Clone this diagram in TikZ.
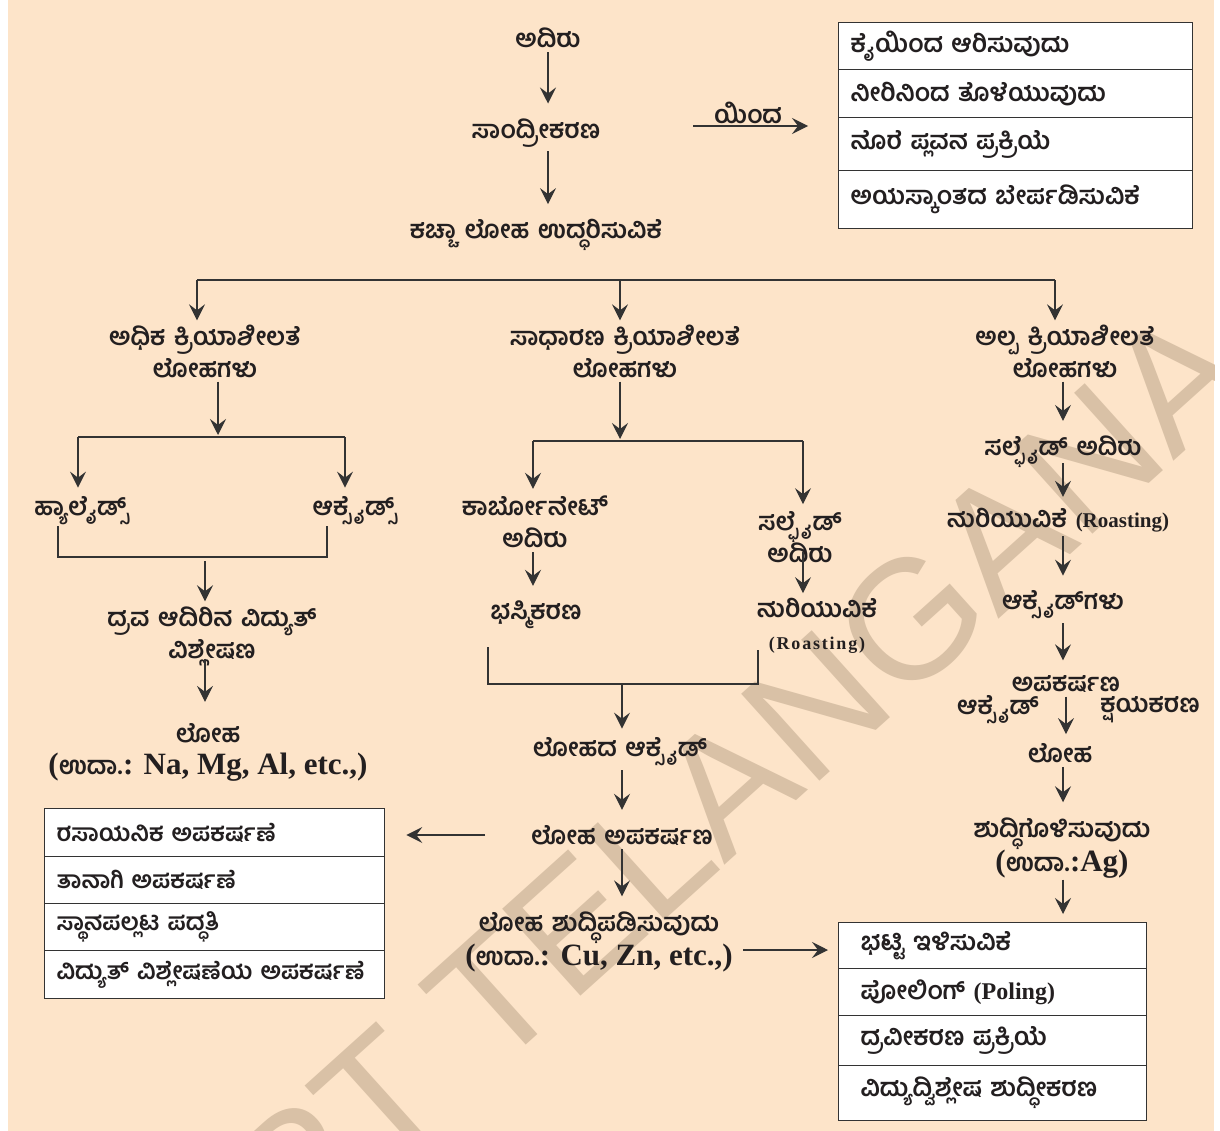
\documentclass[tikz,border=0pt]{standalone}
\usepackage{fontspec}
\newfontfamily\knfont[Script=Kannada, WordSpace=1.4]{Hind Mysuru}
\newfontfamily\latfont{Liberation Serif}
\newfontfamily\roastfont[LetterSpace=10]{Liberation Serif}
\newfontfamily\wmfont{Liberation Sans}
\usetikzlibrary{arrows.meta,positioning}

\definecolor{bgpeach}{RGB}{253,228,201}
\definecolor{wmtan}{RGB}{217,193,166}
\definecolor{inkc}{RGB}{35,31,32}
\definecolor{linec}{RGB}{51,51,51}

\newcommand{\latbig}[1]{{\latfont\bfseries\fontsize{31}{32}\selectfont #1}}
\newcommand{\latmid}[1]{{\latfont\bfseries\fontsize{24}{26}\selectfont #1}}
\newcommand{\roastsp}[1]{{\roastfont\bfseries\fontsize{18}{20}\selectfont #1}}
\newcommand{\roastb}[1]{{\latfont\bfseries\fontsize{21}{22}\selectfont #1}}

\tikzset{
  kn/.style={font=\knfont\bfseries\fontsize{25}{32}\selectfont, text=inkc, inner sep=1pt, align=center},
  arw/.style={-{Stealth[length=16pt,width=16pt,inset=6pt]}, line width=1.2pt, draw=linec, shorten >=14pt, shorten <=3pt},
  ln/.style={line width=1.2pt, draw=linec},
  tabrow/.style={draw=linec, fill=white, line width=1.3pt, anchor=north west, inner ysep=0pt, align=left,
    font=\knfont\bfseries\fontsize{25}{28}\selectfont, text=inkc},
  tabsmall/.style={tabrow, font=\knfont\bfseries\fontsize{24}{28}\selectfont}
}

\begin{document}
\begin{tikzpicture}[x=1pt, y=-1pt]

  \fill[white] (0,0) rectangle (1220,1131);
  \useasboundingbox (0,0) rectangle (1220,1131);
  \fill[bgpeach] (8,0) rectangle (1214,1131);

  \begin{scope}
    \clip (8,0) rectangle (1214,1131);
    \node[rotate=42, text=wmtan, font=\wmfont\fontsize{170}{170}\selectfont] (wm) at (736,777) {RT TELANGANA};
  \end{scope}

  % top
  \node[kn] (adiru) at (548,38) {ಅದಿರು};
  \node[kn] (sandri) at (536,133) {ಸಾಂದ್ರೀಕರಣ};
  \node[kn] (kachcha) at (536,235) {ಕಚ್ಚಾ ಲೋಹ ಉದ್ಧರಿಸುವಿಕೆ};
  \draw[arw] (adiru.south) -- (adiru.south |- sandri.north);
  \draw[arw] (sandri.south -| adiru) -- (adiru |- kachcha.north);

  \foreach \txt/\y/\h [count=\i] in {ಕೈಯಿಂದ ಆರಿಸುವುದು/22/47, ನೀರಿನಿಂದ ತೊಳೆಯುವುದು/69/48,
      ನೊರೆ ಪ್ಲವನ ಪ್ರಕ್ರಿಯೆ/117/53, ಅಯಸ್ಕಾಂತದ ಬೇರ್ಪಡಿಸುವಿಕೆ/170/58}
    \node[tabrow, text width=330pt, inner xsep=12pt, minimum height=\h pt] (tr\i) at (838,\y) {\mbox{\txt}};

  \node[kn] (yinda) at (748,113) {ಯಿಂದ};
  \coordinate (ys) at (693,126);
  \draw[arw, shorten <=0pt, shorten >=30pt] (ys) -- (ys -| tr1.west);

  % three groups
  \coordinate (brL) at (197,280);
  \coordinate (brM) at (620,280);
  \coordinate (brR) at (1055,280);
  \draw[ln] (brL) -- (brR);

  \node[kn] (adhika) at (205,351) {ಅಧಿಕ ಕ್ರಿಯಾಶೀಲತೆ\\ಲೋಹಗಳು};
  \node[kn] (sadha) at (625,351) {ಸಾಧಾರಣ ಕ್ರಿಯಾಶೀಲತೆ\\ಲೋಹಗಳು};
  \node[kn] (alpa) at (1065,351) {ಅಲ್ಪ ಕ್ರಿಯಾಶೀಲತೆ\\ಲೋಹಗಳು};
  \foreach \c/\n in {brL/adhika, brM/sadha, brR/alpa}
    \draw[arw, shorten <=0pt, shorten >=3pt] (\c) -- (\c |- \n.north);

  % left
  \coordinate (jL) at (218,437);
  \coordinate (jL1) at (78,437);
  \coordinate (jL2) at (345,437);
  \draw[arw, shorten >=2pt] (adhika.south -| jL) -- (jL);
  \draw[ln] (jL1) -- (jL2);
  \node[kn] (halide) at (82,511) {ಹ್ಯಾಲೈಡ್ಸ್};
  \node[kn] (oxide) at (355,511) {ಆಕ್ಸೈಡ್ಸ್};
  \draw[arw, shorten <=0pt, shorten >=8pt] (jL1) -- (jL1 |- halide.north);
  \draw[arw, shorten <=0pt, shorten >=8pt] (jL2) -- (jL2 |- oxide.north);

  \coordinate (mL) at (58,557);
  \coordinate (mR) at (327,557);
  \coordinate (mC) at (205,557);
  \draw[ln] (mL |- halide.south) -- (mL) -- (mR) -- (mR |- oxide.south);
  \node[kn] (drava) at (212,636) {ದ್ರವ ಆದಿರಿನ ವಿದ್ಯುತ್\\ವಿಶ್ಲೇಷಣ};
  \draw[arw, shorten <=4pt, shorten >=4pt] (mC) -- (mC |- drava.north);
  \node[kn] (loha1) at (208,752) {ಲೋಹ\\\latbig{(}ಉದಾ.\latbig{: Na, Mg, Al, etc.,)}};
  \draw[arw, shorten <=-8pt, shorten >=20pt] (drava.south -| mC) -- (mC |- loha1.north);

  \foreach \txt/\y/\h [count=\i] in {ರಸಾಯನಿಕ ಅಪಕರ್ಷಣೆ/808/48, ತಾನಾಗಿ ಅಪಕರ್ಷಣೆ/856/47,
      ಸ್ಥಾನಪಲ್ಲಟ ಪದ್ಧತಿ/903/47, ವಿದ್ಯುತ್ ವಿಶ್ಲೇಷಣೆಯ ಅಪಕರ್ಷಣೆ/950/48}
    \node[tabsmall, text width=316pt, inner xsep=12pt, minimum height=\h pt] (lb\i) at (44,\y) {\mbox{\txt}};

  % middle
  \coordinate (jM) at (620,441);
  \coordinate (jM1) at (533,441);
  \coordinate (jM2) at (803,441);
  \draw[arw, shorten >=2pt] (sadha.south -| jM) -- (jM);
  \draw[ln] (jM1) -- (jM2);
  \node[kn] (carb) at (535,522) {ಕಾರ್ಬೋನೇಟ್\\ಅದಿರು};
  \node[kn] (sulf) at (800,537) {ಸಲ್ಫೈಡ್\\ಅದಿರು};
  \draw[arw, shorten <=0pt, shorten >=6pt] (jM1) -- (jM1 |- carb.north);
  \draw[arw, shorten <=0pt, shorten >=6pt] (jM2) -- (jM2 |- sulf.north);
  \node[kn] (bhasma) at (536,615) {ಭಸ್ಮಿಕರಣ};
  \node[kn] (huri) at (817,626) {ಹುರಿಯುವಿಕೆ\\\roastsp{(Roasting)}};
  \draw[arw] (carb.south -| jM1) -- (jM1 |- bhasma.north);
  \draw[arw, shorten <=-12pt, shorten >=4pt] (sulf.south -| jM2) -- (jM2 |- huri.north);

  \coordinate (cLt) at (488,647);
  \coordinate (cL) at (488,684);
  \coordinate (cR) at (758,684);
  \coordinate (cRt) at (758,650);
  \coordinate (cM) at (622,684);
  \draw[ln] (cLt) -- (cL) -- (cR) -- (cRt);
  \node[kn] (loxide) at (620,752) {ಲೋಹದ ಆಕ್ಸೈಡ್};
  \node[kn] (lapak) at (622,835) {ಲೋಹ ಅಪಕರ್ಷಣ};
  \node[kn] (lshud) at (599,942) {ಲೋಹ ಶುದ್ಧಿಪಡಿಸುವುದು\\\latbig{(}ಉದಾ.\latbig{: Cu, Zn, etc.,)}};
  \draw[arw, shorten <=0pt, shorten >=8pt] (cM) -- (cM |- loxide.north);
  \draw[arw] (loxide.south -| cM) -- (cM |- lapak.north);
  \draw[arw] (lapak.south -| cM) -- (cM |- lshud.north);
  \draw[arw, shorten <=45pt, shorten >=21pt] (lapak.west) -- (lapak.west -| lb1.east);

  \foreach \txt/\y/\h [count=\i] in {ಭಟ್ಟಿ ಇಳಿಸುವಿಕೆ/922/46, ಪೋಲಿಂಗ್ \latmid{(Poling)}/968/47,
      ದ್ರವೀಕರಣ ಪ್ರಕ್ರಿಯೆ/1015/50, ವಿದ್ಯುದ್ವಿಶ್ಲೇಷ ಶುದ್ಧೀಕರಣ/1065/55}
    \node[tabrow, text width=264pt, inner xsep=22pt, minimum height=\h pt] (rb\i) at (838,\y) {\mbox{\txt}};

  \coordinate (rs) at (743,950);
  \draw[arw, shorten <=0pt, shorten >=10pt] (rs) -- (rs -| rb1.west);

  % right
  \coordinate (rcol) at (1063,0);
  \node[kn] (rsulf) at (1063,452) {ಸಲ್ಫೈಡ್ ಅದಿರು};
  \node[kn] (rhuri) at (1058,520) {ಹುರಿಯುವಿಕೆ \roastb{(Roasting)}};
  \node[kn] (roxs) at (1063,605) {ಆಕ್ಸೈಡ್^^^^200cಗಳು};
  \node[kn] (rapak) at (1066,684) {ಅಪಕರ್ಷಣ};
  \node[kn] (roxl) at (998,710) {ಆಕ್ಸೈಡ್};
  \node[kn] (rksh) at (1150,710) {ಕ್ಷಯಕರಣ};
  \node[kn] (rloha) at (1060,753) {ಲೋಹ};
  \node[kn] (rshud) at (1062,848) {ಶುದ್ಧಿಗೊಳಿಸುವುದು\\\latbig{(}ಉದಾ.\latbig{:Ag)}};
  \draw[arw] (alpa.south -| rcol) -- (rcol |- rsulf.north);
  \draw[arw, shorten <=-6pt, shorten >=10pt] (rsulf.south -| rcol) -- (rcol |- rhuri.north);
  \draw[arw] (rhuri.south -| rcol) -- (rcol |- roxs.north);
  \draw[arw] (roxs.south -| rcol) -- (rcol |- rapak.north);
  \draw[arw, shorten >=8pt] (rapak.south) -- (rapak.south |- rloha.north);
  \draw[arw] (rloha.south -| rcol) -- (rcol |- rshud.north);
  \draw[arw, shorten <=0pt, shorten >=8pt] (rshud.south -| rcol) -- (rcol |- rb1.north);

\end{tikzpicture}
\end{document}
